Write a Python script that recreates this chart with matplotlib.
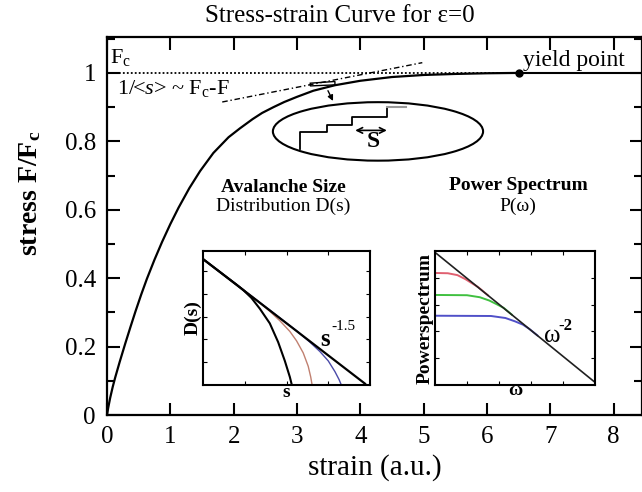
import matplotlib
matplotlib.use("Agg")
import matplotlib.pyplot as plt
from matplotlib import patches
from matplotlib.ticker import MultipleLocator

plt.rcParams['font.family'] = ['Liberation Serif', 'DejaVu Serif']
plt.rcParams['mathtext.fontset'] = 'custom'
plt.rcParams['mathtext.rm'] = 'Liberation Serif'
plt.rcParams['mathtext.it'] = 'Liberation Serif:italic'
plt.rcParams['mathtext.bf'] = 'Liberation Serif:bold'

# main stress-strain curve
strain = [0, 0.02, 0.05, 0.09, 0.13, 0.2, 0.29, 0.37, 0.45, 0.54, 0.63, 0.75,
          0.87, 1.0, 1.13, 1.3, 1.47, 1.68, 1.92, 2.1, 2.3, 2.45, 2.63, 2.8,
          3.0, 3.26, 3.6, 4.0, 4.5, 5.0, 5.5, 6.0, 6.5]
stress = [0, 0.022, 0.05, 0.082, 0.11, 0.155, 0.21, 0.257, 0.303, 0.352, 0.398, 0.454,
          0.506, 0.558, 0.606, 0.663, 0.713, 0.766, 0.812, 0.838, 0.865, 0.883, 0.9, 0.915,
          0.93, 0.948, 0.964, 0.977, 0.988, 0.994, 0.997, 0.999, 1.0]
yield_strain = 6.5
tangent_x = [1.82, 4.98]
tangent_y = [0.915, 1.03]

# staircase inside the zoom ellipse
stair_x = [3.05, 3.05, 3.47, 3.47, 3.87, 3.87, 4.42, 4.42]
stair_y = [0.779, 0.827, 0.827, 0.847, 0.847, 0.871, 0.871, 0.901]

# inset 1: avalanche size distribution (axes units)
pl_s = [0, 0.97]
pl_d = [0.94, 0.01]
cut1_s = [0, 0.2, 0.24, 0.29, 0.34, 0.40, 0.45, 0.49, 0.52, 0.53]
cut1_d = [0.94, 0.75, 0.71, 0.65, 0.57, 0.46, 0.32, 0.18, 0.06, 0.01]
cut2_s = [0, 0.32, 0.40, 0.46, 0.52, 0.56, 0.60, 0.63, 0.645, 0.652]
cut2_d = [0.94, 0.635, 0.55, 0.48, 0.40, 0.33, 0.24, 0.14, 0.06, 0.01]
cut3_s = [0, 0.42, 0.56, 0.64, 0.70, 0.75, 0.79, 0.815, 0.825]
cut3_d = [0.94, 0.54, 0.405, 0.32, 0.25, 0.18, 0.10, 0.04, 0.01]

# inset 2: power spectrum (axes units)
ps_w = [0, 1]
ps_p = [0.99, 0.02]
red_w = [0, 0.08, 0.14, 0.19, 0.23, 0.27, 0.33]
red_p = [0.836, 0.834, 0.82, 0.79, 0.76, 0.73, 0.67]
green_w = [0, 0.2, 0.28, 0.34, 0.39, 0.43, 0.48]
green_p = [0.672, 0.67, 0.655, 0.63, 0.60, 0.575, 0.525]
blue_w = [0, 0.35, 0.44, 0.50, 0.55, 0.59, 0.64]
blue_p = [0.517, 0.515, 0.50, 0.475, 0.45, 0.418, 0.37]

W, H = 642, 492
fig = plt.figure(figsize=(W / 100, H / 100), dpi=100)

ax = fig.add_axes([107 / W, 77 / H, 1 - 107 / W, 378 / H])
ax.set_xlim(0, 8.45)
ax.set_ylim(0, 1.105)
for sp in ax.spines.values():
    sp.set_linewidth(1.6)
ax.xaxis.set_major_locator(MultipleLocator(1))
ax.yaxis.set_minor_locator(MultipleLocator(0.1))
ax.set_yticks([0, 0.2, 0.4, 0.6, 0.8, 1.0])
ax.set_yticklabels(['0', '0.2', '0.4', '0.6', '0.8', '1'])
ax.tick_params(which='both', direction='in', top=True, right=True, width=1.5,
               labelsize=18)
ax.tick_params(which='major', length=9, pad=8)
ax.tick_params(which='minor', length=6)
ax.set_xlabel('strain (a.u.)', fontsize=21, labelpad=4)
fig.text(30 / W, 1 - 193 / H, r'stress F/F$_\mathbf{c}$', fontsize=20,
         fontweight='bold', rotation=90, ha='center', va='center')
fig.text(340 / W, 1 - 16 / H, 'Stress-strain Curve for ε=0', fontsize=18,
         ha='center', va='center')

ax.plot(strain, stress, color='black', lw=1.6)
ax.plot([0, yield_strain], [1, 1], color='black', lw=1.3, ls=(0, (1, 1.2)))
ax.plot([yield_strain, 8.45], [1, 1], color='black', lw=1.5)
ax.plot([yield_strain], [1], 'o', color='black', ms=5)
ax.plot(tangent_x, tangent_y, color='black', lw=1, ls=(0, (4, 2, 1, 2)))

ax.text(0.05, 1.03, r'F$_\mathrm{c}$', fontsize=16, va='baseline')
ax.text(0.16, 0.938, r'1/<$\it{s}$> ~ F$_\mathrm{c}$-F', fontsize=16, va='baseline')
ax.text(6.57, 1.02, 'yield point', fontsize=17, va='baseline')

# zoomed-in view of the curve
ax.add_patch(patches.Ellipse((4.28, 0.829), 3.32, 0.171, fill=False, lw=1.5))
ax.plot(stair_x, stair_y, color='black', lw=1.3)
ax.plot([4.42, 4.73], [0.901, 0.901], color='0.6', lw=1.5)
ax.annotate('', xy=(3.92, 0.832), xytext=(4.42, 0.832),
            arrowprops=dict(arrowstyle='<->', lw=1.2, color='black',
                            shrinkA=0, shrinkB=0))
ax.text(4.2, 0.80, 'S', fontsize=17, fontweight='bold', ha='center', va='center')
ax.add_patch(patches.Polygon([(3.21, 0.962), (3.6, 0.965), (3.6, 0.975), (3.21, 0.97)],
                             closed=True, fill=False, lw=1))
ax.annotate('', xy=(3.57, 0.918), xytext=(3.49, 0.948),
            arrowprops=dict(arrowstyle='-|>', lw=1, color='black',
                            mutation_scale=8, shrinkA=0, shrinkB=0))

ax.text(2.78, 0.665, 'Avalanche Size', fontsize=14, fontweight='bold',
        ha='center', va='center')
ax.text(2.78, 0.61, 'Distribution D(s)', fontsize=14, ha='center', va='center')
ax.text(6.49, 0.672, 'Power Spectrum', fontsize=14, fontweight='bold',
        ha='center', va='center')
ax.text(6.49, 0.61, 'P(ω)', fontsize=14, ha='center', va='center')

# inset 1
ax1 = fig.add_axes([203 / W, 107 / H, 167 / W, 134 / H])
ax1.set_xlim(0, 1)
ax1.set_ylim(0, 1)
for sp in ax1.spines.values():
    sp.set_linewidth(1.5)
ax1.set_xticks([0.25, 0.5, 0.75])
ax1.set_yticks([0.17, 0.34, 0.51, 0.68, 0.85])
ax1.tick_params(direction='in', top=True, right=True, length=3, width=0.8,
                labelbottom=False, labelleft=False)
ax1.plot(cut3_s, cut3_d, color='#4a4aa8', lw=1)
ax1.plot(cut2_s, cut2_d, color='#c08070', lw=1)
ax1.plot(cut1_s, cut1_d, color='black', lw=1.5)
ax1.plot(pl_s, pl_d, color='black', lw=1.6)
ax1.set_ylabel('D(s)', fontsize=14, fontweight='bold', labelpad=1)
ax1.set_xlabel('s', fontsize=14, fontweight='bold', labelpad=-1)
ax1.text(0.70, 0.29, 's', fontsize=18, fontweight='bold', va='baseline')
ax1.text(0.77, 0.41, '-1.5', fontsize=11, va='baseline')

# inset 2
ax2 = fig.add_axes([435 / W, 107 / H, 160 / W, 134 / H])
ax2.set_xlim(0, 1)
ax2.set_ylim(0, 1)
for sp in ax2.spines.values():
    sp.set_linewidth(1.5)
ax2.set_xticks([0.2, 0.4, 0.6, 0.8])
ax2.set_yticks([0.2, 0.4, 0.6, 0.8])
ax2.tick_params(direction='in', top=True, right=True, length=3, width=0.8,
                labelbottom=False, labelleft=False)
ax2.plot(red_w, red_p, color='#e06070', lw=1.4)
ax2.plot(green_w, green_p, color='#40c040', lw=1.4)
ax2.plot(blue_w, blue_p, color='#5050c8', lw=1.4)
ax2.plot(ps_w, ps_p, color='#202020', lw=1.2)
ax2.set_ylabel('Powerspectrum', fontsize=14, fontweight='bold', labelpad=1)
ax2.set_xlabel('ω', fontsize=14, fontweight='bold', labelpad=-2)
ax2.text(0.68, 0.32, 'ω', fontsize=18, va='baseline')
ax2.text(0.77, 0.41, '-2', fontsize=12, fontweight='bold', va='baseline')

fig.savefig('out.png', dpi=100)
